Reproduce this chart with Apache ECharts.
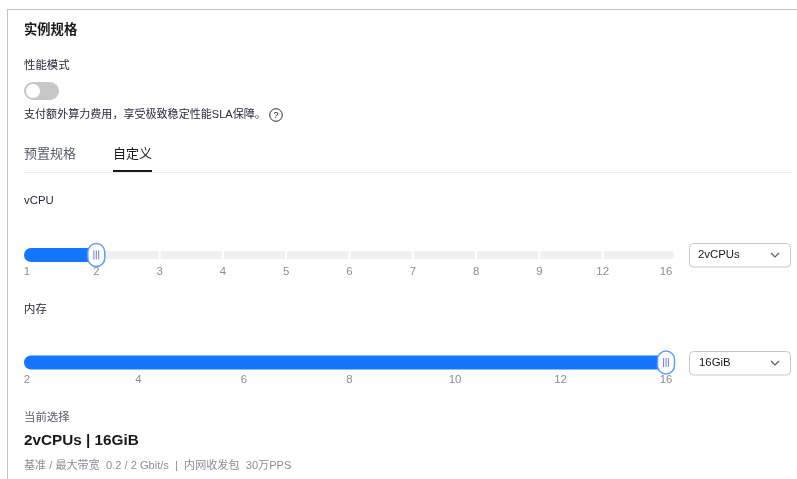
<!DOCTYPE html>
<html>
<head>
<meta charset="utf-8">
<script src="https://cdn.jsdelivr.net/npm/echarts@6/dist/echarts.min.js"></script>
<style>
html,body{margin:0;padding:0;background:#fff;}
#c{width:797px;height:479px;}
</style>
</head>
<body>
<div id="c"></div>
<script>
// ---- data ----
const vcpuTicks = ['1', '2', '3', '4', '5', '6', '7', '8', '9', '12', '16'];
const memTicks = ['2', '4', '6', '8', '10', '12', '16'];
const selectedVcpu = '2';
const selectedMem = '16';
const bandwidthBase = '0.2';
const bandwidthMax = '2';
const pps = '30万';

const FONT = "'Liberation Sans', 'Noto Sans CJK SC', sans-serif";
const BLUE = '#1476ff';
const GRAY_TXT = '#8a8e99';

const chart = echarts.init(document.getElementById('c'), null, {renderer: 'canvas'});

function sliderRender(ticks, extraL, extraR) {
  return function (params, api) {
    const n = ticks.length;
    const xs = ticks.map((t, i) => api.coord([i, 0.5])[0]);
    const cy = api.coord([0, 0.5])[1];
    const x0 = xs[0] - extraL, x1 = xs[n - 1] + extraR;
    const children = [];
    for (let i = 0; i < n - 1; i++) {
      const a = i === 0 ? x0 : xs[i] + 1;
      const b = i === n - 2 ? x1 : xs[i + 1] - 1;
      children.push({
        type: 'rect',
        shape: {x: a, y: cy - 4, width: b - a, height: 8,
          r: [i === 0 ? 4 : 0, i === n - 2 ? 4 : 0, i === n - 2 ? 4 : 0, i === 0 ? 4 : 0]},
        style: {fill: '#f0f0f0'}
      });
    }
    const hx = api.coord([api.value(0), 0.5])[0];
    children.push({
      type: 'rect',
      shape: {x: x0, y: cy - 7, width: hx - x0, height: 14, r: [7, 0, 0, 7]},
      style: {fill: BLUE}
    });
    children.push({
      type: 'rect',
      shape: {x: hx - 8.5, y: cy - 11.5, width: 17, height: 23, r: 8.5},
      style: {fill: '#fff', stroke: '#5c9dff', lineWidth: 1.5}
    });
    [-2.4, 0, 2.4].forEach(d => children.push({
      type: 'line',
      shape: {x1: hx + d, y1: cy - 4.5, x2: hx + d, y2: cy + 4.5},
      style: {stroke: '#6a7fe6', lineWidth: 1}
    }));
    return {type: 'group', children};
  };
}

function axisLabel(margin) {
  return {
    color: GRAY_TXT, fontSize: 11.4, fontFamily: FONT, margin: margin,
    interval: 0,
    alignMinLabel: 'right',
    formatter: (v, i) => i === 0 ? '{f|' + v + '}' : v,
    rich: {f: {color: GRAY_TXT, fontSize: 11.4, fontFamily: FONT, padding: [0, 2.8, 0, 0]}}
  };
}

const txt = (x, y, text, size, color, weight, extra) => Object.assign({
  type: 'text', x: x, y: y,
  style: {text: text, fontSize: size, fill: color, fontWeight: weight || 'normal',
    fontFamily: FONT, verticalAlign: 'middle', align: 'left'}
}, extra || {});

const graphic = [
  {type: 'line', shape: {x1: 7, y1: 9.5, x2: 797, y2: 9.5}, style: {stroke: '#c4c4c4', lineWidth: 1}},
  {type: 'line', shape: {x1: 7.5, y1: 9, x2: 7.5, y2: 479}, style: {stroke: '#c4c4c4', lineWidth: 1}},
  txt(24, 30, '实例规格', 13.3, '#191919', 'bold'),
  txt(24, 66, '性能模式', 11.4, '#252b3a'),
  {type: 'rect', shape: {x: 24, y: 82, width: 35, height: 18, r: 9}, style: {fill: '#c7c7c7'}},
  {type: 'circle', shape: {cx: 33, cy: 91, r: 7}, style: {fill: '#fff'}},
  txt(24, 115, '支付额外算力费用，享受极致稳定性能SLA保障。', 11.05, '#252b3a'),
  {type: 'circle', shape: {cx: 276, cy: 115, r: 6.3}, style: {fill: 'none', stroke: '#252b3a', lineWidth: 1}},
  txt(276, 115.5, '?', 9, '#252b3a', 'normal', {style: {text: '?', fontSize: 9, fill: '#252b3a', fontFamily: FONT, align: 'center', verticalAlign: 'middle'}}),
  txt(24, 154, '预置规格', 13, '#575d6c'),
  txt(113, 154, '自定义', 13, '#191919'),
  {type: 'line', shape: {x1: 24, y1: 172.5, x2: 792, y2: 172.5}, style: {stroke: '#ececec', lineWidth: 1}},
  {type: 'rect', shape: {x: 113, y: 170, width: 39, height: 2}, style: {fill: '#191919'}},
  txt(24, 201, 'vCPU', 11.4, '#252b3a'),
  {type: 'rect', shape: {x: 689.5, y: 243.5, width: 101, height: 23.5, r: 4}, style: {fill: '#fff', stroke: '#c7c7c7', lineWidth: 1}},
  txt(698, 255, selectedVcpu + 'vCPUs', 11.4, '#191919'),
  {type: 'polyline', shape: {points: [[771, 253], [775, 257], [779, 253]]}, style: {stroke: '#575d6c', lineWidth: 1.2, fill: 'none'}},
  txt(24, 310, '内存', 11.4, '#252b3a'),
  {type: 'rect', shape: {x: 689.5, y: 351.5, width: 101, height: 23.5, r: 4}, style: {fill: '#fff', stroke: '#c7c7c7', lineWidth: 1}},
  txt(699, 363, selectedMem + 'GiB', 11.4, '#191919'),
  {type: 'polyline', shape: {points: [[771, 361], [775, 365], [779, 361]]}, style: {stroke: '#575d6c', lineWidth: 1.2, fill: 'none'}},
  txt(24, 418, '当前选择', 11.4, '#575d6c'),
  txt(24, 441, selectedVcpu + 'vCPUs | ' + selectedMem + 'GiB', 15.3, '#191919', 'bold'),
  txt(24, 466, '基准 / 最大带宽  ' + bandwidthBase + ' / ' + bandwidthMax + ' Gbit/s  |  内网收发包  ' + pps + 'PPS', 11.1, GRAY_TXT)
];

const option = {
  animation: false,
  backgroundColor: '#fff',
  grid: [
    {left: 33, width: 633, top: 251, height: 8},
    {left: 33, width: 633, top: 358.5, height: 8}
  ],
  xAxis: [
    {gridIndex: 0, type: 'category', boundaryGap: false, data: vcpuTicks,
      axisLine: {show: false}, axisTick: {show: false}, splitLine: {show: false},
      axisLabel: axisLabel(7)},
    {gridIndex: 1, type: 'category', boundaryGap: false, data: memTicks,
      axisLine: {show: false}, axisTick: {show: false}, splitLine: {show: false},
      axisLabel: axisLabel(8)}
  ],
  yAxis: [
    {gridIndex: 0, type: 'value', min: 0, max: 1, show: false},
    {gridIndex: 1, type: 'value', min: 0, max: 1, show: false}
  ],
  series: [
    {type: 'custom', xAxisIndex: 0, yAxisIndex: 0, silent: true,
      renderItem: sliderRender(vcpuTicks, 9, 8),
      data: [[vcpuTicks.indexOf(selectedVcpu), 0.5]]},
    {type: 'custom', xAxisIndex: 1, yAxisIndex: 1, silent: true,
      renderItem: sliderRender(memTicks, 9, 8),
      data: [[memTicks.indexOf(selectedMem), 0.5]]}
  ],
  graphic: graphic
};
chart.setOption(option);
</script>
</body>
</html>
